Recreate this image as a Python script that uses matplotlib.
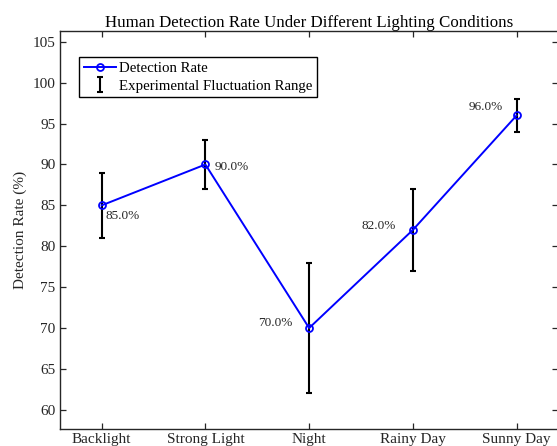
import matplotlib.pyplot as plt
import numpy as np

plt.rcParams['font.family'] = ['Liberation Serif', 'DejaVu Serif']

conditions = ['Backlight', 'Strong Light', 'Night', 'Rainy Day', 'Sunny Day']
rate = [85.0, 90.0, 70.0, 82.0, 96.0]
low = [81, 87, 62, 77, 94]
high = [89, 93, 78, 87, 98]

x = np.arange(1, len(conditions) + 1)
err = [np.array(rate) - np.array(low), np.array(high) - np.array(rate)]

fig = plt.figure(figsize=(5.57, 4.46), dpi=100)
ax = fig.add_axes([0.108, 0.039, 0.894, 0.891])

gray = '#262626'
ax.plot(x, rate, '-o', color='blue', lw=1.4, ms=5, mfc='none', mew=1.3,
        label='Detection Rate', zorder=3)
ax.errorbar(x, rate, yerr=err, fmt='none', ecolor='black', elinewidth=1.5,
            capsize=2.5, capthick=1.5, label='Experimental Fluctuation Range', zorder=2)

# label offsets (points)
offs = [(2.5, -7.5, 'left'), (6.5, -1.5, 'left'), (-12, 3.5, 'right'),
        (-12, 2.5, 'right'), (-10, 6, 'right')]
for xi, yi, (dx, dy, ha) in zip(x, rate, offs):
    ax.annotate(f'{yi:.1f}%', (xi, yi), xytext=(dx, dy), textcoords='offset points',
                ha=ha, va='center', fontsize=9.5, color=gray)

ax.set_xlim(0.6, 5.4)
ax.set_ylim(57.7, 106.3)
ax.set_yticks(np.arange(60, 106, 5))
ax.set_xticks(x)
ax.set_xticklabels(conditions)
ax.tick_params(direction='in', top=True, right=True, labelsize=11, colors=gray,
               length=4, width=0.9)
for s in ax.spines.values():
    s.set_color(gray)
    s.set_linewidth(1.0)
ax.set_ylabel('Detection Rate (%)', fontsize=11, color=gray)
ax.set_title('Human Detection Rate Under Different Lighting Conditions', fontsize=12.2,
             color='black', pad=3)

leg = ax.legend(loc='upper left', bbox_to_anchor=(0.038, 0.935), fontsize=10.7,
                fancybox=False, edgecolor='black', framealpha=1, borderpad=0.3,
                labelspacing=0.3, handlelength=2.2, handletextpad=0.2, borderaxespad=0)
leg.get_frame().set_linewidth(1.0)

fig.savefig('out.png', dpi=100)
